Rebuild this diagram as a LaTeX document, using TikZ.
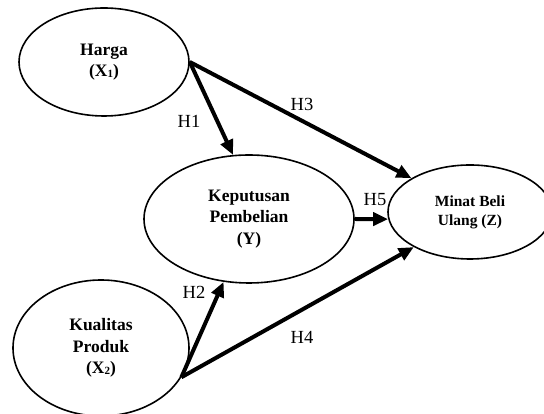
\documentclass[tikz,border=0pt]{standalone}
\usepackage{fontspec}
\setmainfont{Liberation Serif}
\usetikzlibrary{shapes.geometric,arrows.meta}
\newcommand{\subd}[1]{{\fontsize{11}{11}\selectfont\raisebox{-1pt}{#1}}}
\begin{document}
\begin{tikzpicture}[x=1pt,y=1pt,
  var/.style={draw=black,line width=1.6pt,ellipse,inner sep=0pt,align=center,
    font=\fontsize{17.5}{21.5}\selectfont\bfseries},
  link/.style={line width=4pt,-{Triangle[length=15pt,width=13pt]}},
  hlab/.style={inner sep=0pt,font=\fontsize{18.5}{20}\selectfont}]
\useasboundingbox (0,0) rectangle (544,414);
\node[var,minimum width=170pt,minimum height=108pt] (harga) at (104,352) {Harga\\(X\subd{1})};
\node[var,minimum width=210pt,minimum height=128pt] (kp) at (249,195) {Keputusan\\Pembelian\\(Y)};
\node[var,minimum width=164pt,minimum height=94pt,font=\fontsize{15.5}{19}\selectfont\bfseries] (minat) at (470,202) {Minat Beli\\Ulang (Z)};
\node[var,minimum width=176pt,minimum height=136pt] (kual) at (101,66) {Kualitas\\Produk\\(X\subd{2})};
\draw[link] (harga.east) -- (kp.104);
\draw[link] (harga.east) -- (minat.150);
\draw[link] (kp.east) -- (minat.185);
\draw[link] (kual.-20.6) -- (kp.-112);
\draw[link] (kual.-20.6) -- (minat.212);
\node[hlab] (h1) at (189,293) {H1};
\node[hlab] (h3) at (302,310) {H3};
\node[hlab] (h5) at (375,214) {H5};
\node[hlab] (h2) at (194,122) {H2};
\node[hlab] (h4) at (302,77) {H4};
\end{tikzpicture}
\end{document}
